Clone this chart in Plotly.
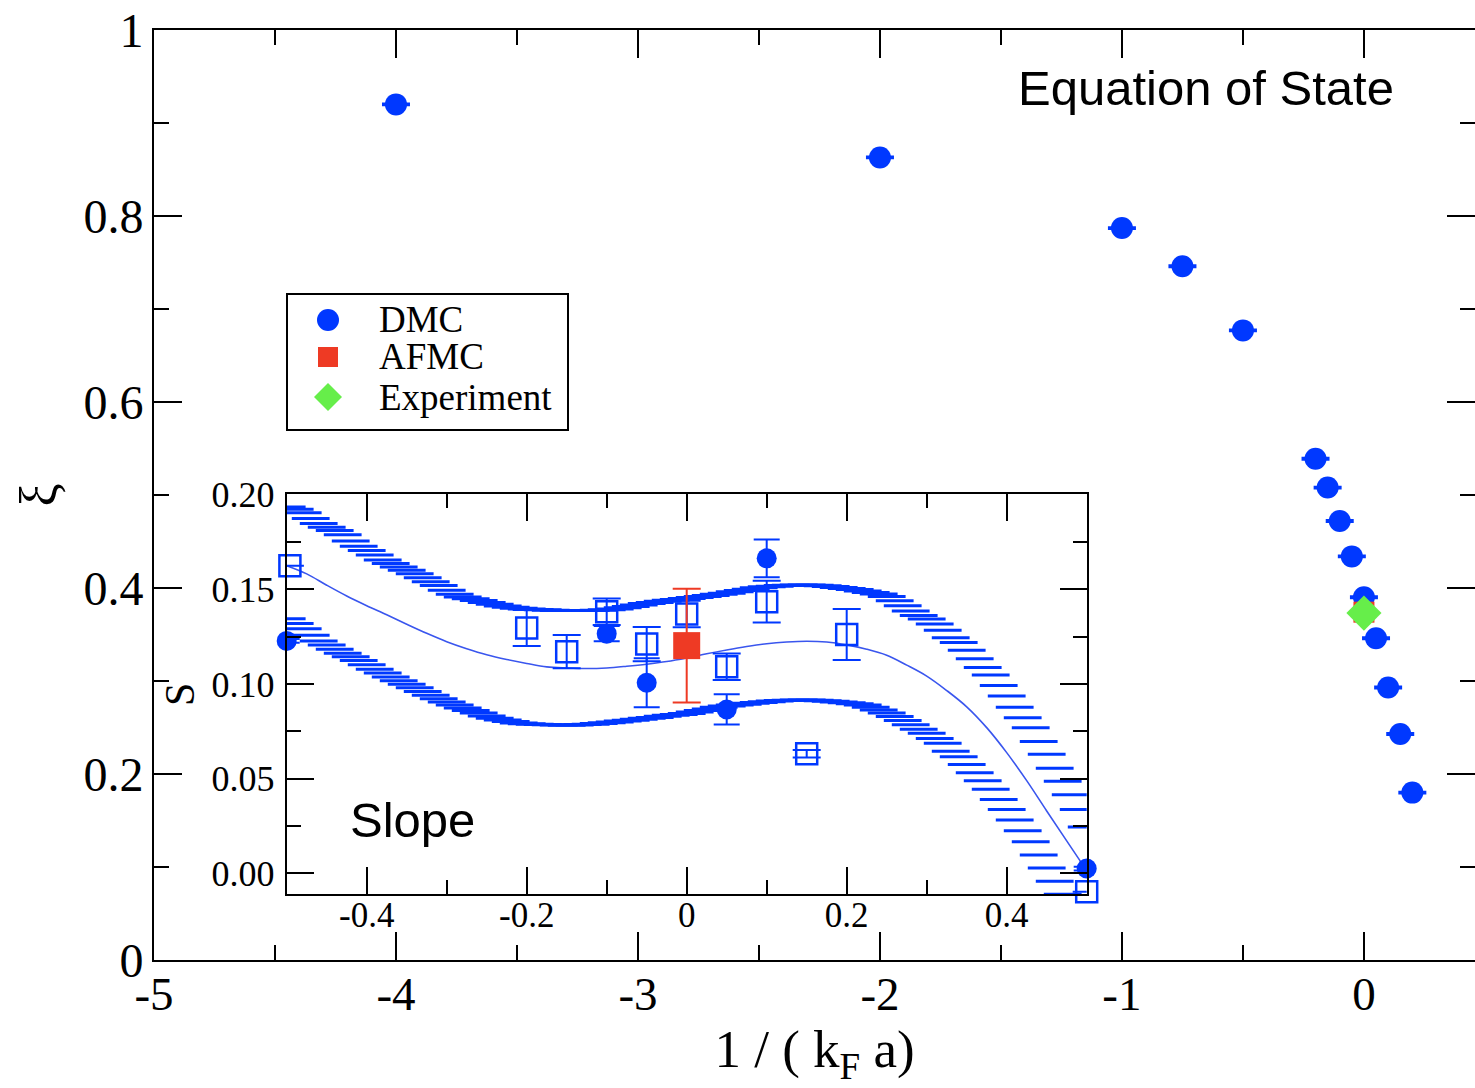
import plotly.graph_objects as go

# ---------------- data ----------------
# Equation of state xi vs 1/(k_F a)
dmc_x = [-4.0, -2.0, -1.0, -0.75, -0.5, -0.2, -0.15, -0.1, -0.05, 0.0, 0.05, 0.1, 0.15, 0.2]
dmc_xi = [0.920, 0.863, 0.787, 0.746, 0.677, 0.539, 0.508, 0.472, 0.434, 0.390, 0.346, 0.293, 0.243, 0.180]
dmc_err = [0.001, 0.001, 0.001, 0.001, 0.001, 0.001, 0.001, 0.001, 0.001, 0.001, 0.001, 0.001, 0.001, 0.001]

afmc_x = [0.0]
afmc_xi = [0.374]
exp_x = [0.0]
exp_xi = [0.373]

# Slope S of the equation of state (inset)
slope_dmc_x = [-0.5, -0.1, -0.05, 0.05, 0.1, 0.5]
slope_dmc = [0.1228, 0.1266, 0.1007, 0.0866, 0.1664, 0.0026]
slope_dmc_err = [0.001, 0.004, 0.013, 0.008, 0.010, 0.001]

slope_sq_x = [-0.496, -0.2, -0.15, -0.1, -0.05, 0.0, 0.05, 0.1, 0.15, 0.2, 0.5]
slope_sq = [0.1625, 0.1296, 0.1171, 0.1382, 0.1211, 0.1370, 0.1092, 0.1435, 0.0632, 0.1262, -0.0097]
slope_sq_err = [0.0, 0.0095, 0.0088, 0.0070, 0.0090, 0.0070, 0.0070, 0.0110, 0.0020, 0.0135, 0.0]

slope_afmc_x = [0.0]
slope_afmc = [0.1203]
slope_afmc_err = [0.030]

# central fit curve
fit_x = [-0.5, -0.475, -0.45, -0.425, -0.4, -0.375, -0.35, -0.325, -0.3, -0.275,
         -0.25, -0.225, -0.2, -0.175, -0.15, -0.125, -0.1, -0.075, -0.05, -0.025,
         0.0, 0.025, 0.05, 0.075, 0.1, 0.125, 0.15, 0.175, 0.2, 0.225,
         0.25, 0.275, 0.3, 0.325, 0.35, 0.375, 0.4, 0.425, 0.45, 0.475, 0.5]
fit_mid = [0.1625, 0.1582, 0.1522, 0.1465, 0.1414, 0.1366, 0.1316, 0.1268, 0.1224, 0.1187,
           0.1155, 0.1130, 0.1109, 0.1091, 0.1085, 0.1082, 0.1085, 0.1094, 0.1105, 0.1119,
           0.1138, 0.1160, 0.1180, 0.1198, 0.1213, 0.1222, 0.1226, 0.1222, 0.1207, 0.1184,
           0.1152, 0.1100, 0.1042, 0.0966, 0.0880, 0.0770, 0.0638, 0.0490, 0.0330, 0.0172, 0.0015]

# uncertainty band edges, one hatch stroke per point
band_x = [-0.50, -0.49, -0.48, -0.47, -0.46, -0.45, -0.44, -0.43, -0.42, -0.41,
          -0.40, -0.39, -0.38, -0.37, -0.36, -0.35, -0.34, -0.33, -0.32, -0.31,
          -0.30, -0.29, -0.28, -0.27, -0.26, -0.25, -0.24, -0.23, -0.22, -0.21,
          -0.20, -0.19, -0.18, -0.17, -0.16, -0.15, -0.14, -0.13, -0.12, -0.11,
          -0.10, -0.09, -0.08, -0.07, -0.06, -0.05, -0.04, -0.03, -0.02, -0.01,
          0.00, 0.01, 0.02, 0.03, 0.04, 0.05, 0.06, 0.07, 0.08, 0.09,
          0.10, 0.11, 0.12, 0.13, 0.14, 0.15, 0.16, 0.17, 0.18, 0.19,
          0.20, 0.21, 0.22, 0.23, 0.24, 0.25, 0.26, 0.27, 0.28, 0.29,
          0.30, 0.31, 0.32, 0.33, 0.34, 0.35, 0.36, 0.37, 0.38, 0.39,
          0.40, 0.41, 0.42, 0.43, 0.44, 0.45, 0.46, 0.47, 0.48, 0.49, 0.50]
band_hi = [0.1935, 0.1923, 0.1905, 0.1874, 0.1848, 0.1828, 0.1811, 0.1788, 0.1755, 0.1728,
           0.1705, 0.1681, 0.1655, 0.1636, 0.1618, 0.1601, 0.1583, 0.1562, 0.1540, 0.1520,
           0.1496, 0.1474, 0.1460, 0.1451, 0.1441, 0.1431, 0.1421, 0.1412, 0.1405, 0.1400,
           0.1396, 0.1394, 0.1392, 0.1390, 0.1389, 0.1388, 0.1388, 0.1388, 0.1389, 0.1390,
           0.1392, 0.1397, 0.1403, 0.1410, 0.1418, 0.1426, 0.1431, 0.1437, 0.1442, 0.1447,
           0.1452, 0.1457, 0.1463, 0.1468, 0.1474, 0.1479, 0.1487, 0.1494, 0.1501, 0.1508,
           0.1514, 0.1517, 0.1520, 0.1522, 0.1523, 0.1523, 0.1522, 0.1519, 0.1515, 0.1510,
           0.1505, 0.1499, 0.1491, 0.1484, 0.1475, 0.1462, 0.1440, 0.1414, 0.1386, 0.1362,
           0.1344, 0.1317, 0.1284, 0.1245, 0.1220, 0.1178, 0.1134, 0.1087, 0.1048, 0.0993,
           0.0937, 0.0878, 0.0822, 0.0769, 0.0697, 0.0630, 0.0555, 0.0487, 0.0416, 0.0338, 0.0246]
band_lo = [0.1345, 0.1320, 0.1292, 0.1258, 0.1228, 0.1206, 0.1184, 0.1163, 0.1144, 0.1124,
           0.1102, 0.1078, 0.1058, 0.1038, 0.1018, 0.0999, 0.0980, 0.0961, 0.0941, 0.0923,
           0.0905, 0.0890, 0.0874, 0.0861, 0.0847, 0.0832, 0.0820, 0.0810, 0.0803, 0.0795,
           0.0791, 0.0788, 0.0786, 0.0785, 0.0784, 0.0783, 0.0784, 0.0786, 0.0788, 0.0792,
           0.0796, 0.0800, 0.0805, 0.0809, 0.0814, 0.0819, 0.0824, 0.0830, 0.0835, 0.0840,
           0.0845, 0.0853, 0.0861, 0.0869, 0.0877, 0.0884, 0.0889, 0.0894, 0.0899, 0.0903,
           0.0907, 0.0910, 0.0913, 0.0915, 0.0916, 0.0916, 0.0915, 0.0912, 0.0909, 0.0906,
           0.0902, 0.0896, 0.0889, 0.0877, 0.0863, 0.0847, 0.0829, 0.0808, 0.0785, 0.0762,
           0.0740, 0.0713, 0.0687, 0.0645, 0.0616, 0.0576, 0.0532, 0.0489, 0.0445, 0.0390,
           0.0338, 0.0282, 0.0225, 0.0167, 0.0097, 0.0029, -0.0041, -0.0110, -0.0180, -0.0250, -0.0320]

main_xticks = [-5, -4, -3, -2, -1, 0]
main_xlabels = ["-5", "-4", "-3", "-2", "-1", "0"]
main_yticks = [0, 0.2, 0.4, 0.6, 0.8, 1.0]
main_ylabels = ["0", "0.2", "0.4", "0.6", "0.8", "1"]
ins_xticks = [-0.4, -0.2, 0.0, 0.2, 0.4]
ins_xlabels = ["-0.4", "-0.2", "0", "0.2", "0.4"]
ins_yticks = [0.0, 0.05, 0.10, 0.15, 0.20]
ins_ylabels = ["0.00", "0.05", "0.10", "0.15", "0.20"]

legend_names = ["DMC", "AFMC", "Experiment"]

# ---------------- styling ----------------
BLUE = "#0038ff"
FIT_BLUE = "#3a56ee"
RED = "#ee3a24"
GREEN = "#66ee4a"
SERIF = "Liberation Serif"
SANS = "Liberation Sans"

W, H = 1475, 1088
L, T, B, R = 154, 30, 960, 1475   # main plot box in pixels


def px(x):
    return (x - L) / (R - L)


def py(y):
    return (B - y) / (B - T)


fig = go.Figure()

# main panel
fig.add_trace(go.Scatter(
    x=dmc_x, y=dmc_xi, mode="markers", name="DMC",
    marker=dict(symbol="circle", size=22, color=BLUE),
    error_y=dict(type="data", array=dmc_err, color=BLUE, thickness=2, width=14),
    showlegend=False))
fig.add_trace(go.Scatter(
    x=afmc_x, y=afmc_xi, mode="markers", name="AFMC",
    marker=dict(symbol="square", size=21, color=RED), showlegend=False))
fig.add_trace(go.Scatter(
    x=exp_x, y=exp_xi, mode="markers", name="Experiment",
    marker=dict(symbol="diamond", size=27, color=GREEN), showlegend=False))

# inset: hatched uncertainty band edges
for band in (band_hi, band_lo):
    fig.add_trace(go.Scatter(
        x=band_x, y=band, mode="markers", xaxis="x2", yaxis="y2",
        marker=dict(symbol="line-ew", size=27, color=BLUE,
                    line=dict(width=3, color=BLUE)),
        showlegend=False, hoverinfo="skip"))
fig.add_trace(go.Scatter(
    x=fit_x, y=fit_mid, mode="lines", xaxis="x2", yaxis="y2",
    line=dict(color=FIT_BLUE, width=1.6, shape="spline", smoothing=1.0), showlegend=False))
fig.add_trace(go.Scatter(
    x=slope_sq_x, y=slope_sq, mode="markers", xaxis="x2", yaxis="y2",
    marker=dict(symbol="square-open", size=21, color=BLUE, line=dict(width=2.5, color=BLUE)),
    error_y=dict(type="data", array=slope_sq_err, color=BLUE, thickness=2, width=14),
    showlegend=False, cliponaxis=False))
fig.add_trace(go.Scatter(
    x=slope_dmc_x, y=slope_dmc, mode="markers", xaxis="x2", yaxis="y2",
    marker=dict(symbol="circle", size=20, color=BLUE),
    error_y=dict(type="data", array=slope_dmc_err, color=BLUE, thickness=2, width=13),
    showlegend=False, cliponaxis=False))
fig.add_trace(go.Scatter(
    x=slope_afmc_x, y=slope_afmc, mode="markers", xaxis="x2", yaxis="y2",
    marker=dict(symbol="square", size=27, color=RED),
    error_y=dict(type="data", array=slope_afmc_err, color=RED, thickness=2, width=14),
    showlegend=False))

axis_common = dict(showline=True, linecolor="black", linewidth=2, mirror="ticks",
                   ticks="inside", tickcolor="black", tickwidth=2, showgrid=False,
                   zeroline=False, tickmode="array", automargin=False)

fig.update_layout(
    width=W, height=H,
    margin=dict(l=L, r=W - R, t=T, b=H - B),
    paper_bgcolor="white", plot_bgcolor="white",
    showlegend=False,
    xaxis=dict(**axis_common, range=[-5, 0.459], tickvals=main_xticks, ticktext=main_xlabels,
               ticklen=28, ticklabelstandoff=-8,
               minor=dict(tickmode="linear", tick0=0, dtick=0.5, ticks="inside",
                          ticklen=15, tickwidth=2, tickcolor="black"),
               tickfont=dict(family=SERIF, size=47, color="black"),
               title=dict(text="1 / ( k<sub>F</sub> a)", standoff=4,
                          font=dict(family=SERIF, size=53, color="black"))),
    yaxis=dict(**axis_common, range=[0, 1], tickvals=main_yticks, ticktext=main_ylabels,
               ticklen=28, ticklabelstandoff=-1,
               minor=dict(tickmode="linear", tick0=0, dtick=0.1, ticks="inside",
                          ticklen=15, tickwidth=2, tickcolor="black"),
               tickfont=dict(family=SERIF, size=48, color="black"),
               title=dict(text="ξ", standoff=10,
                          font=dict(family=SERIF, size=52, color="black"))),
    xaxis2=dict(**axis_common, anchor="y2", domain=[px(286.7), px(1086.7)],
                range=[-0.5, 0.5], tickvals=ins_xticks, ticktext=ins_xlabels,
                ticklen=27, ticklabelstandoff=-11,
                minor=dict(tickmode="linear", tick0=0, dtick=0.1, ticks="inside",
                           ticklen=14, tickwidth=2, tickcolor="black"),
                tickfont=dict(family=SERIF, size=35, color="black")),
    yaxis2=dict(**axis_common, anchor="x2", domain=[py(894.3), py(494.3)],
                range=[-0.011, 0.2002], tickvals=ins_yticks, ticktext=ins_ylabels,
                ticklen=27, ticklabelstandoff=3,
                minor=dict(tickmode="linear", tick0=0, dtick=0.025, ticks="inside",
                           ticklen=14, tickwidth=2, tickcolor="black"),
                tickfont=dict(family=SERIF, size=36, color="black"),
                title=dict(text="S", standoff=4,
                           font=dict(family=SERIF, size=42, color="black"))),
)

# panel captions
fig.add_annotation(x=px(1016), y=py(88), xref="paper", yref="paper", xanchor="left",
                   yanchor="middle", text="Equation of State", showarrow=False,
                   font=dict(family=SANS, size=49, color="black"))
fig.add_annotation(x=px(348), y=py(820), xref="paper", yref="paper", xanchor="left",
                   yanchor="middle", text="Slope", showarrow=False,
                   font=dict(family=SANS, size=49, color="black"))

# legend box drawn by hand
fig.add_shape(type="rect", xref="paper", yref="paper",
              x0=px(287), x1=px(568), y0=py(430), y1=py(294),
              line=dict(color="black", width=2), fillcolor="white", layer="above")
legend_rows = [320, 357, 397]
sym_x = px(328)
fig.add_shape(type="circle", xref="paper", yref="paper", xsizemode="pixel", ysizemode="pixel",
              xanchor=sym_x, yanchor=py(legend_rows[0]), x0=-11, x1=11, y0=-11, y1=11,
              fillcolor=BLUE, line=dict(width=0))
fig.add_shape(type="rect", xref="paper", yref="paper", xsizemode="pixel", ysizemode="pixel",
              xanchor=sym_x, yanchor=py(legend_rows[1]), x0=-10, x1=10, y0=-10, y1=10,
              fillcolor=RED, line=dict(width=0))
fig.add_shape(type="path", xref="paper", yref="paper", xsizemode="pixel", ysizemode="pixel",
              xanchor=sym_x, yanchor=py(legend_rows[2]),
              path="M -14 0 L 0 14 L 14 0 L 0 -14 Z",
              fillcolor=GREEN, line=dict(width=0))
for name, row in zip(legend_names, legend_rows):
    fig.add_annotation(x=px(377), y=py(row), xref="paper", yref="paper", xanchor="left",
                       yanchor="middle", text=name, showarrow=False,
                       font=dict(family=SERIF, size=37, color="black"))

fig.write_html("out.html")
